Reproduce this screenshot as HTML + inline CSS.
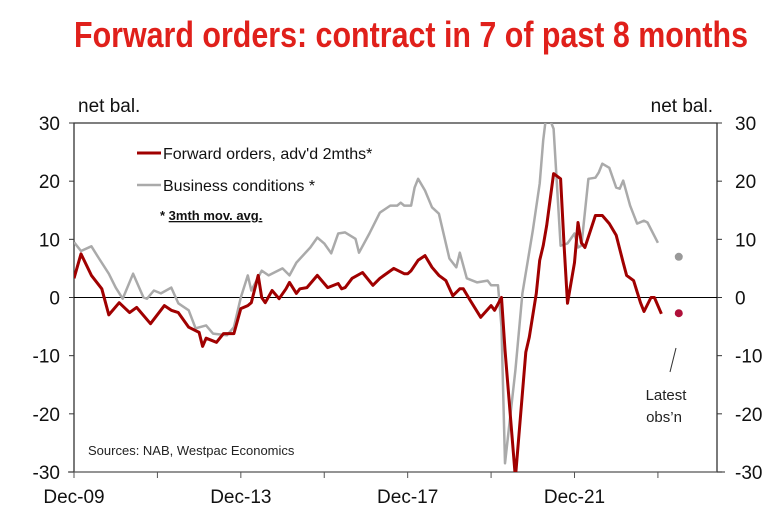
<!DOCTYPE html>
<html><head><meta charset="utf-8"><style>
body{margin:0;background:#fff;}
svg{display:block;font-family:"Liberation Sans",Arial,sans-serif;}
</style></head><body>
<svg id="chart" width="778" height="530" viewBox="0 0 778 530" xmlns="http://www.w3.org/2000/svg">
<defs><clipPath id="plotclip"><rect x="74" y="123" width="643" height="349"/></clipPath></defs>
<text x="411" y="47" text-anchor="middle" fill="#e0201b" font-family="'Liberation Sans Narrow','Liberation Sans',sans-serif" font-weight="bold" font-size="36" textLength="674" lengthAdjust="spacingAndGlyphs">Forward orders: contract in 7 of past 8 months</text>
<text x="78" y="112" font-size="19" fill="#111">net bal.</text>
<text x="713" y="112" font-size="19" fill="#111" text-anchor="end">net bal.</text>
<g id="axes"></g>
<g id="series" clip-path="url(#plotclip)"></g>
<g>
<line x1="137" y1="153" x2="161" y2="153" stroke="#a00000" stroke-width="3"/>
<text x="163" y="159" font-size="16" fill="#111">Forward orders, adv'd 2mths*</text>
<line x1="137" y1="185" x2="161" y2="185" stroke="#aaaaaa" stroke-width="2.5"/>
<text x="163" y="191" font-size="16" fill="#111">Business conditions *</text>
<text x="160" y="220" font-size="13" font-weight="bold" fill="#111">* <tspan text-decoration="underline">3mth mov. avg.</tspan></text>
</g>
<text x="88" y="455" font-size="13" fill="#222">Sources: NAB, Westpac Economics</text>
<line x1="676" y1="348" x2="670" y2="372" stroke="#333" stroke-width="1"/>
<text x="666" y="400" font-size="15" fill="#222" text-anchor="middle">Latest</text>
<text x="664" y="422" font-size="15" fill="#222" text-anchor="middle">obs’n</text>
</svg>
<script>
const redMonths=[0,2,5,8,10,13,16,18,22,26,28,30,33,36,37,38,41,43,46,48,50,51,53,54,55,57,59,61,62,64,65,67,70,73,76,77,78,80,83,86,88,92,95,96,97,99,101,103,105,107,109,111,112,114,117,120,121,123,124,127,130,131,133,134,135,136,138,140,141,142,144,145,146,147,150,152,154,156,158,159,161,163,164,166,167,169];
const redValues=[3.3,7.5,3.8,1.5,-3,-0.9,-2.6,-1.7,-4.5,-1.4,-2.2,-2.6,-5.1,-6,-8.4,-7,-7.7,-6.2,-6.2,-1.9,-1.4,-0.9,3.8,0,-0.9,1.2,-0.2,1.5,2.6,0.7,1.5,1.7,3.8,1.7,2.4,1.5,1.7,3.3,4.3,2.1,3.3,5,4.1,4.1,4.6,6.4,7.2,5.2,3.8,2.9,0.3,1.5,1.5,-0.5,-3.4,-1.4,-2.2,0,-9,-31,-9.4,-6.8,0.7,6.4,8.9,12.4,21.3,20.4,8.9,-1,6,12.9,9.4,8.6,14.1,14.1,12.7,10.7,6,3.8,2.9,-0.9,-2.4,0,0,-2.8];
const greyMonths=[0,2,5,7,10,12,14,17,20,21,23,25,28,30,33,35,38,40,44,46,48,50,51,54,56,60,62,64,68,70,72,74,76,78,81,82,85,88,91,93,94,95,97,98,99,101,103,105,108,110,111,113,116,119,120,122,123,124,127,129,132,134,135,136,138,140,142,144,145,146,148,150,151,152,154,156,157,158,160,162,164,165,168];
const greyValues=[9.5,8,8.8,6.9,4.1,1.7,-0.2,4.1,0,-0.2,1.2,0.7,1.7,-1,-2.2,-5.3,-4.8,-6.2,-6.5,-5.1,0,3.8,1.2,4.6,3.8,5,3.8,6,8.6,10.3,9.3,7.6,11,11.2,10.1,7.7,11,14.6,15.8,15.8,16.3,15.8,15.8,18.9,20.4,18.4,15.5,14.4,6.7,5.2,7.7,3.3,2.6,2.9,2.1,2.1,-5.1,-28.5,-12.5,0.7,11.5,19.6,27,32,29,8.9,9.3,11,8.6,8.9,20.4,20.6,21.5,23,22.3,18.9,18.7,20.1,15.8,12.7,13.2,12.9,9.4];
const latestMonth=174;
const latestGrey=7;
const latestRed=-2.7;
const yTicks=[30,20,10,0,-10,-20,-30];
const xTickLabels=["Dec-09","Dec-13","Dec-17","Dec-21"];
const xTickLabelMonths=[0,48,96,144];

const NS="http://www.w3.org/2000/svg";
const X0=74,X1=717,Y0=123,Y1=472,MMAX=185,VMIN=-30,VMAX=30;
function xs(m){return X0+(X1-X0)*m/MMAX;}
function ys(v){return Y1-(Y1-Y0)*(v-VMIN)/(VMAX-VMIN);}
function mk(tag,attrs,parent){const e=document.createElementNS(NS,tag);for(const k in attrs)e.setAttribute(k,attrs[k]);parent.appendChild(e);return e;}
const axes=document.getElementById('axes');
const series=document.getElementById('series');
// frame
let fr=mk('path',{d:`M${X0},${Y1} L${X0},${Y0} L${X1},${Y0} L${X1},${Y1}`,fill:'none',stroke:'#333','stroke-width':1.3},axes);


let xb=mk('line',{x1:X0-6,x2:X1+8,y1:Y1,y2:Y1,stroke:'#555','stroke-width':1.3},axes);


let zl=mk('line',{x1:X0,x2:X1,y1:ys(0),y2:ys(0),stroke:'#000','stroke-width':1},axes);


yTicks.forEach(v=>{
  const y=ys(v);
  mk('line',{x1:X0-5,x2:X0,y1:y,y2:y,stroke:'#333'},axes);
  mk('line',{x1:X1,x2:X1+5,y1:y,y2:y,stroke:'#333'},axes);
  const t=mk('text',{x:X0-14,y:y+7,'text-anchor':'end','font-size':19,fill:'#111'},axes);
  t.textContent=v;
  
  
  const t2=mk('text',{x:X1+18,y:y+7,'font-size':19,fill:'#111'},axes);
  t2.textContent=v;
  
  
});
for(let m=0;m<=MMAX;m+=24){mk('line',{x1:xs(m),x2:xs(m),y1:Y1,y2:Y1+6,stroke:'#555'},axes);}
xTickLabels.forEach((l,i)=>{
  const t=mk('text',{x:xs(xTickLabelMonths[i]),y:Y1+31,'text-anchor':'middle','font-size':19,fill:'#111'},axes);
  t.textContent=l;
  
  
});
function line(ms,vs,color,w,name){
  const d=ms.map((m,i)=>(i?'L':'M')+xs(m).toFixed(1)+','+ys(vs[i]).toFixed(1)).join(' ');
  const p=mk('path',{d:d,fill:'none',stroke:color,'stroke-width':w,'stroke-linejoin':'round'},series);
  
  
}
line(greyMonths,greyValues,'#aaaaaa',2.5,'business-conditions-line');
line(redMonths,redValues,'#a00000',3,'forward-orders-line');
const g1=mk('circle',{cx:xs(latestMonth),cy:ys(latestGrey),r:4,fill:'#999'},axes);


const r1=mk('circle',{cx:xs(latestMonth),cy:ys(latestRed),r:4,fill:'#b0103a'},axes);


</script>
</body></html>
